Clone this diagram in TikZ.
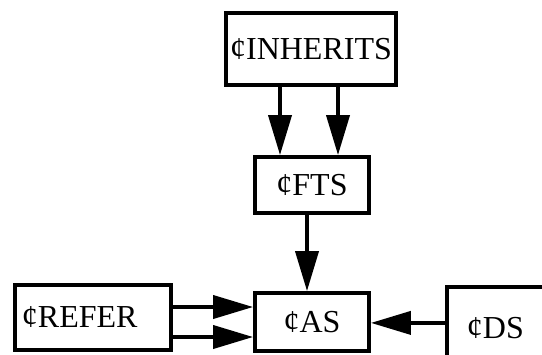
\documentclass[tikz,border=0pt]{standalone}
\usepackage{fontspec}
\setmainfont{Liberation Serif}
\usetikzlibrary{arrows.meta}
\begin{document}
\begin{tikzpicture}[x=1bp,y=-1bp,
  box/.style={draw, line width=3.8bp, inner sep=0pt, font=\fontsize{32bp}{38bp}\selectfont},
  arr/.style={line width=3.8bp, -{Triangle[length=40bp,width=23bp]}}]
\useasboundingbox (0,0) rectangle (542,354);
\clip (0,0) rectangle (542,354);
\fill[white] (0,0) rectangle (542,354);
\node[box, minimum width=170bp, minimum height=72bp] (INH) at (311,49) {¢INHERITS};
\node[box, minimum width=114bp, minimum height=56bp] (FTS) at (312,185) {¢FTS};
\node[box, minimum width=114bp, minimum height=58bp] (AS) at (312,322) {¢AS};
\node[box, minimum height=65bp, inner xsep=7bp, text width=142bp, align=left] (REF) at (93,317.5) {¢REFER};
\node[box, minimum height=82bp, inner xsep=20bp, text width=100bp, align=left, anchor=north west] (DS) at (445,285) {¢DS};
\draw[arr] ([xshift=-31bp]INH.south) -- ([xshift=-32bp]FTS.north);
\draw[arr] ([xshift=27bp]INH.south) -- ([xshift=26bp]FTS.north);
\draw[arr] ([xshift=-5bp]FTS.south) -- ([xshift=-5bp]AS.north);
\draw[arr] ([yshift=10.5bp]REF.east) -- ([yshift=10.5bp]REF.east -| AS.west);
\draw[arr] ([yshift=-19.5bp]REF.east) -- ([yshift=-19.5bp]REF.east -| AS.west);
\draw[arr] ([yshift=5bp]DS.west) -- ([yshift=5bp]DS.west -| AS.east);
\end{tikzpicture}
\end{document}
